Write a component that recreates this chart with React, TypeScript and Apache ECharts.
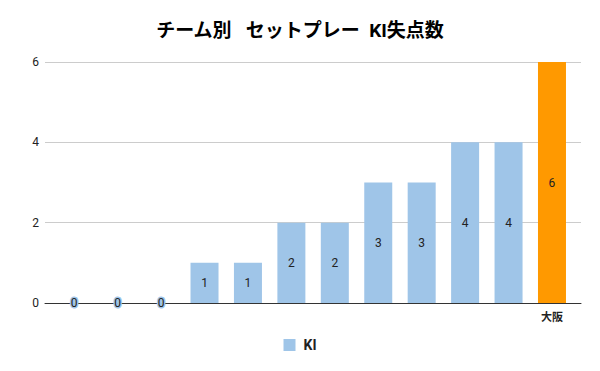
import React, { useEffect, useRef } from "react";
import * as echarts from "echarts";

const title = "チーム別   セットプレー  KI失点数";
const categories = ["", "", "", "", "", "", "", "", "", "", "", "大阪"];
const values = [0, 0, 0, 1, 1, 2, 2, 3, 3, 4, 4, 6];
const seriesName = "KI";
const highlightIndex = 11;
const baseColor = "#9fc5e8";
const highlightColor = "#ff9900";

export default function App() {
  const ref = useRef<HTMLDivElement>(null);
  useEffect(() => {
    if (!ref.current) return;
    const chart = echarts.init(ref.current, undefined, { renderer: "svg" });
    const font = "Roboto, 'Noto Sans CJK JP', sans-serif";
    chart.setOption({
      animation: false,
      textStyle: { fontFamily: font },
      title: {
        text: title,
        left: "center",
        top: 16,
        textStyle: { fontSize: 19, fontWeight: "bold", color: "#000", fontFamily: font },
      },
      legend: {
        data: [seriesName],
        top: 333,
        left: "center",
        icon: "rect",
        itemWidth: 12,
        itemHeight: 12,
        itemGap: 8,
        textStyle: {
          fontSize: 14,
          fontWeight: "bold",
          color: "#222",
          fontFamily: font,
          padding: [0, 0, 0, 3],
        },
      },
      grid: [
        { left: 45, right: 19, top: 62, bottom: 68 },
        { left: 52.5, right: 26.3, top: 62, bottom: 68 },
      ],
      xAxis: [
        {
          type: "value",
          gridIndex: 0,
          min: 0,
          max: 1,
          axisLine: { show: true, onZero: false, lineStyle: { color: "#333", width: 1 } },
          axisTick: { show: false },
          axisLabel: { show: false },
          splitLine: { show: false },
        },
        {
          type: "category",
          gridIndex: 1,
          data: categories,
          axisLine: { show: false },
          axisTick: { show: false },
          axisLabel: {
            interval: 0,
            margin: 9,
            fontSize: 11,
            fontWeight: "bold",
            color: "#222",
            fontFamily: font,
          },
        },
      ],
      yAxis: [
        {
          type: "value",
          gridIndex: 0,
          min: 0,
          max: 6,
          interval: 2,
          axisLine: { show: false },
          axisTick: { show: false },
          axisLabel: { margin: 6, fontSize: 12, color: "#222", fontFamily: font },
          splitLine: { show: true, lineStyle: { color: "#cccccc", width: 1 } },
        },
        {
          type: "value",
          gridIndex: 1,
          min: 0,
          max: 6,
          interval: 2,
          show: false,
          splitLine: { show: false },
        },
      ],
      series: [
        {
          name: seriesName,
          type: "bar",
          xAxisIndex: 1,
          yAxisIndex: 1,
          barWidth: 28,
          itemStyle: { color: baseColor },
          label: {
            show: true,
            position: "inside",
            fontSize: 12,
            color: "#222",
            fontFamily: font,
            textBorderColor: baseColor,
            textBorderWidth: 3,
          },
          data: values.map((v, i) =>
            i === highlightIndex
              ? {
                  value: v,
                  itemStyle: { color: highlightColor },
                  label: { textBorderColor: highlightColor },
                }
              : v
          ),
        },
      ],
    });
    return () => chart.dispose();
  }, []);
  return <div ref={ref} style={{ width: 600, height: 371, margin: -8 }} />;
}
